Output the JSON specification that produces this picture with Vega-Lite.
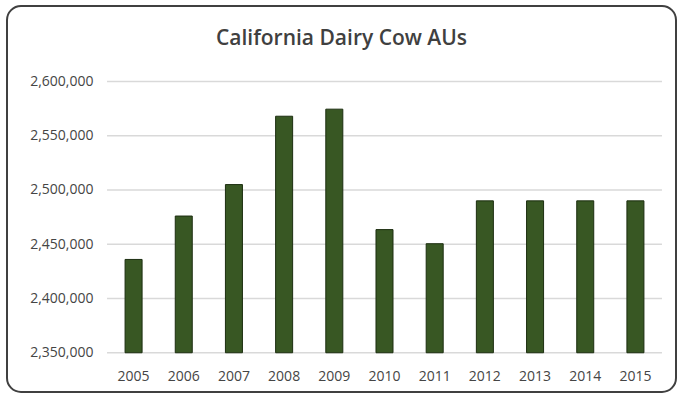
{
  "$schema": "https://vega.github.io/schema/vega-lite/v6.json",
  "autosize": {"type": "none"},
  "padding": {"left": 7, "top": 6, "right": 1, "bottom": 1},
  "width": 669,
  "height": 386,
  "background": "white",
  "config": {
    "view": {"stroke": "#404040", "strokeWidth": 2, "cornerRadius": 14, "fill": "white"},
    "font": "Open Sans"
  },
  "title": {
    "text": "California Dairy Cow AUs",
    "anchor": "middle",
    "baseline": "alphabetic",
    "offset": -60,
    "fontSize": 21,
    "fontWeight": 600,
    "font": "Open Sans",
    "color": "#404040"
  },
  "datasets": {
    "cows": [
      {"year": "2005", "aus": 2436000},
      {"year": "2006", "aus": 2476000},
      {"year": "2007", "aus": 2505000},
      {"year": "2008", "aus": 2568000},
      {"year": "2009", "aus": 2574500},
      {"year": "2010", "aus": 2463500},
      {"year": "2011", "aus": 2450500},
      {"year": "2012", "aus": 2490000},
      {"year": "2013", "aus": 2490000},
      {"year": "2014", "aus": 2490000},
      {"year": "2015", "aus": 2490000}
    ],
    "gridlines": [
      {"level": 2350000},
      {"level": 2400000},
      {"level": 2450000},
      {"level": 2500000},
      {"level": 2550000},
      {"level": 2600000}
    ]
  },
  "layer": [
    {
      "data": {"name": "gridlines"},
      "mark": {"type": "rule", "color": "#d9d9d9", "strokeWidth": 1.5},
      "encoding": {
        "y": {"field": "level", "type": "quantitative"},
        "x": {"datum": "2005", "type": "ordinal", "bandPosition": -1.06},
        "x2": {"datum": "2015", "bandPosition": 2.06}
      }
    },
    {
      "data": {"name": "cows"},
      "mark": {"type": "bar", "color": "#385723", "stroke": "#1c2e10", "strokeWidth": 1},
      "encoding": {
        "x": {
          "field": "year",
          "type": "ordinal",
          "scale": {"type": "band", "range": [100, 655], "paddingInner": 0.661, "paddingOuter": 0.36},
          "axis": {
            "title": null,
            "orient": "bottom",
            "bandPosition": 0.5,
            "offset": -24,
            "domain": false,
            "ticks": false,
            "labelPadding": 1,
            "labelBaseline": "top",
            "labelAngle": 0,
            "labelAlign": "center",
            "labelFont": "Open Sans",
            "labelFontSize": 14,
            "labelColor": "#454545"
          }
        },
        "y": {
          "field": "aus",
          "type": "quantitative",
          "scale": {"domain": [2313825, 2669585], "nice": false, "zero": false},
          "axis": {
            "title": null,
            "offset": -88,
            "grid": false,
            "domain": false,
            "ticks": false,
            "labelPadding": 2,
            "values": [2350000, 2400000, 2450000, 2500000, 2550000, 2600000],
            "format": ",d",
            "labelFont": "Open Sans",
            "labelFontSize": 14,
            "labelColor": "#454545"
          }
        },
        "y2": {"datum": 2350000}
      }
    }
  ]
}
